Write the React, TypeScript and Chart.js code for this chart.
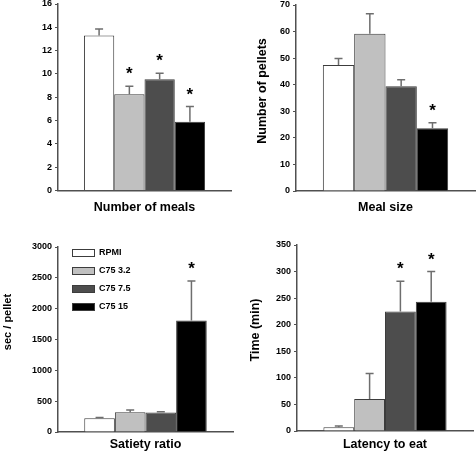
import React, { useEffect, useRef } from 'react';
import { Chart, registerables } from 'chart.js';

Chart.register(...registerables);

// ---------- data ----------
const groups = ['RPMI', 'C75 3.2', 'C75 7.5', 'C75 15'];

const mealsMean = [13.3, 8.25, 9.55, 5.9];
const mealsErr = [0.55, 0.7, 0.5, 1.3];
const mealsSig = [false, true, true, true];

const sizeMean = [47.4, 59.2, 39.4, 23.6];
const sizeErr = [2.5, 7.5, 2.5, 2.1];
const sizeSig = [false, false, false, true];

const satietyMean = [222, 320, 315, 1810];
const satietyErr = [14, 35, 15, 640];
const satietySig = [false, false, false, true];

const latencyMean = [7, 60, 225, 243];
const latencyErr = [2.5, 48, 57, 57];
const latencySig = [false, false, true, true];

const axisMax = [16, 70, 3000, 350];
const axisStep = [2, 10, 500, 50];
const xTitles = ['Number of meals', 'Meal size', 'Satiety ratio', 'Latency to eat'];
const yTitles = ['', 'Number of pellets', 'sec / pellet', 'Time (min)'];

// ---------- styles ----------
const FONT = '"Liberation Sans", Arial, Helvetica, sans-serif';
const barColors = ['#ffffff', '#c0c0c0', '#4d4d4d', '#000000'];
const barBorder = '#3c3c3c';
const axisColor = '#505050';
const errColor = '#6e6e6e';

const panels = [
  { mean: mealsMean, err: mealsErr, sig: mealsSig, left: 0, top: 0, w: 238, h: 228, yW: 58, xH: 37.5, padTop: 4, padRight: 7, xTitlePad: 12.5, yT: null, legend: false },
  { mean: sizeMean, err: sizeErr, sig: sizeSig, left: 238, top: 0, w: 238, h: 228, yW: 58, xH: 37, padTop: 5, padRight: 1, xTitlePad: 12.5, yT: { x: 24.5, y: 91, size: 12.5 }, legend: false },
  { mean: satietyMean, err: satietyErr, sig: satietySig, left: 0, top: 228, w: 238, h: 229, yW: 58, xH: 25, padTop: 19, padRight: 5, xTitlePad: 4.5, yT: { x: 8, y: 94, size: 11 }, legend: true },
  { mean: latencyMean, err: latencyErr, sig: latencySig, left: 238, top: 228, w: 238, h: 229, yW: 59, xH: 26, padTop: 17, padRight: 3, xTitlePad: 4.5, yT: { x: 18, y: 102, size: 12.5 }, legend: false },
];

const errorBarPlugin = {
  id: 'errorBars',
  afterDatasetsDraw(chart: any) {
    const ctx = chart.ctx;
    const yScale = chart.scales.y;
    chart.data.datasets.forEach((ds: any, i: number) => {
      const meta = chart.getDatasetMeta(i);
      const bar: any = meta.data[0];
      if (!bar) return;
      const x = bar.x;
      const yBar = bar.y;
      const yTop = yScale.getPixelForValue(ds.data[0] + ds.err);
      ctx.save();
      ctx.strokeStyle = errColor;
      ctx.lineWidth = 1.5;
      ctx.beginPath();
      ctx.moveTo(x, yBar);
      ctx.lineTo(x, yTop);
      ctx.moveTo(x - 4, yTop);
      ctx.lineTo(x + 4, yTop);
      ctx.stroke();
      if (ds.sig) {
        ctx.fillStyle = '#000';
        ctx.font = `bold 17px ${FONT}`;
        ctx.textAlign = 'center';
        ctx.textBaseline = 'alphabetic';
        ctx.fillText('*', x, yTop - 7);
      }
      ctx.restore();
    });
  },
};

const sideTitlePlugin = {
  id: 'sideTitle',
  afterDraw(chart: any, _args: any, opts: any) {
    if (!opts || !opts.text) return;
    const ctx = chart.ctx;
    ctx.save();
    ctx.translate(opts.x, opts.y);
    ctx.rotate(-Math.PI / 2);
    ctx.fillStyle = '#000';
    ctx.font = `bold ${opts.size}px ${FONT}`;
    ctx.textAlign = 'center';
    ctx.textBaseline = 'middle';
    ctx.fillText(opts.text, 0, 0);
    ctx.restore();
  },
};

const boxLegendPlugin = {
  id: 'boxLegend',
  afterDraw(chart: any, _args: any, opts: any) {
    if (!opts || !opts.show) return;
    const ctx = chart.ctx;
    ctx.save();
    chart.data.datasets.forEach((ds: any, i: number) => {
      const cy = opts.y0 + i * opts.step;
      ctx.fillStyle = ds.backgroundColor;
      ctx.fillRect(opts.x0, cy - 4, 23, 8);
      ctx.strokeStyle = barBorder;
      ctx.lineWidth = 1;
      ctx.strokeRect(opts.x0 + 0.5, cy - 3.5, 22, 7);
      ctx.fillStyle = '#000';
      ctx.font = `bold 9px ${FONT}`;
      ctx.textAlign = 'left';
      ctx.textBaseline = 'middle';
      ctx.fillText(ds.label, opts.x0 + 27, cy);
    });
    ctx.restore();
  },
};

function Panel({ idx }: { idx: number }) {
  const ref = useRef<HTMLCanvasElement>(null);
  const p = panels[idx];
  useEffect(() => {
    if (!ref.current) return;
    const chart = new Chart(ref.current, {
      type: 'bar',
      data: {
        labels: [xTitles[idx]],
        datasets: groups.map((g, i) => ({
          label: g,
          data: [p.mean[i]],
          err: p.err[i],
          sig: p.sig[i],
          backgroundColor: barColors[i],
          borderColor: barBorder,
          borderWidth: 1,
          categoryPercentage: 0.7,
          barPercentage: 1,
        })) as any,
      },
      options: {
        animation: false,
        responsive: false,
        layout: { padding: { left: 0, top: p.padTop, right: p.padRight, bottom: 0 } },
        plugins: {
          legend: { display: false },
          tooltip: { enabled: false },
          sideTitle: p.yT ? { text: yTitles[idx], x: p.yT.x, y: p.yT.y, size: p.yT.size } : {},
          boxLegend: { show: p.legend, x0: 72, y0: 25, step: 18 },
        } as any,
        scales: {
          x: {
            offset: true,
            grid: { display: false },
            border: { display: true, color: axisColor, width: 1.5 },
            ticks: { display: false },
            title: {
              display: true,
              text: xTitles[idx],
              color: '#000',
              font: { family: FONT, size: 12.5, weight: 'bold' },
              padding: { top: 0, bottom: p.xTitlePad },
            },
            afterFit: (s: any) => {
              s.height = p.xH;
              s.paddingLeft = 0;
              s.paddingRight = 0;
            },
          },
          y: {
            min: 0,
            max: axisMax[idx],
            grid: { display: true, drawOnChartArea: false, drawTicks: true, tickLength: 3, color: axisColor, lineWidth: 1 },
            border: { display: true, color: axisColor, width: 1.5 },
            ticks: {
              stepSize: axisStep[idx],
              color: '#000',
              padding: 3,
              font: { family: FONT, size: 9, weight: 'bold' },
              callback: (v: any) => String(v),
            },
            afterFit: (s: any) => {
              s.width = p.yW;
              s.paddingTop = 0;
              s.paddingBottom = 0;
            },
          },
        },
      } as any,
      plugins: [errorBarPlugin, sideTitlePlugin, boxLegendPlugin],
    });
    return () => chart.destroy();
  }, [idx]);
  return (
    <canvas
      ref={ref}
      width={p.w}
      height={p.h}
      style={{ position: 'absolute', left: p.left, top: p.top, width: p.w, height: p.h }}
    />
  );
}

export default function App() {
  return (
    <div style={{ position: 'fixed', left: 0, top: 0, width: 476, height: 457, background: '#fff' }}>
      {panels.map((_, i) => (
        <Panel key={i} idx={i} />
      ))}
    </div>
  );
}
